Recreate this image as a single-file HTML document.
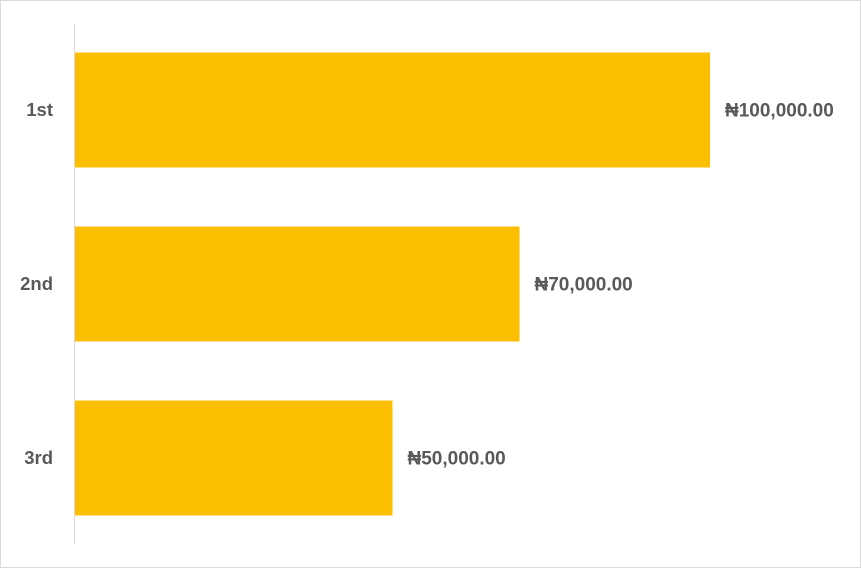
<!DOCTYPE html>
<html><head><meta charset="utf-8"><style>
html,body{margin:0;padding:0;background:#fff;}
svg{display:block;font-family:"Liberation Sans",sans-serif;}
</style></head><body>
<svg id="chart" width="861" height="568">
<rect x="0.5" y="0.5" width="860" height="567" fill="#fff" stroke="#d9d9d9"/>
<line x1="74.5" y1="24" x2="74.5" y2="544" stroke="#d9d9d9" stroke-width="1"/>
<g id="bars"></g>
</svg>
<script>
const categories = ["1st", "2nd", "3rd"];
const values = [100000, 70000, 50000];
const valueLabels = ["₦100,000.00", "₦70,000.00", "₦50,000.00"];
const x0 = 75, xMaxPx = 710, vMax = 100000;
function xScale(v){ return x0 + (xMaxPx - x0) * v / vMax; }
const bandTop = 23, bandH = 174, barH = 115;
function yBand(i){ return bandTop + i * bandH + (bandH - barH) / 2; }
const g = document.getElementById('bars');
const ns = 'http://www.w3.org/2000/svg';
categories.forEach((c, i) => {
  const y = yBand(i);
  const r = document.createElementNS(ns, 'rect');
  r.setAttribute('x', x0);
  r.setAttribute('y', y);
  r.setAttribute('width', xScale(values[i]) - x0);
  r.setAttribute('height', barH);
  r.setAttribute('fill', '#FBBF00');
  
  
  g.appendChild(r);
  const t = document.createElementNS(ns, 'text');
  t.setAttribute('x', 53);
  t.setAttribute('y', y + barH / 2 + 6);
  t.setAttribute('text-anchor', 'end');
  t.setAttribute('font-size', '18.5');
  t.setAttribute('font-weight', 'bold');
  t.setAttribute('fill', '#595959');
  t.textContent = c;
  
  
  g.appendChild(t);
  const v = document.createElementNS(ns, 'text');
  v.setAttribute('x', xScale(values[i]) + 15);
  v.setAttribute('y', y + barH / 2 + 6.5);
  v.setAttribute('font-size', '19');
  v.setAttribute('font-weight', 'bold');
  v.setAttribute('fill', '#595959');
  v.textContent = valueLabels[i];
  
  
  g.appendChild(v);
});
</script>
</body></html>
